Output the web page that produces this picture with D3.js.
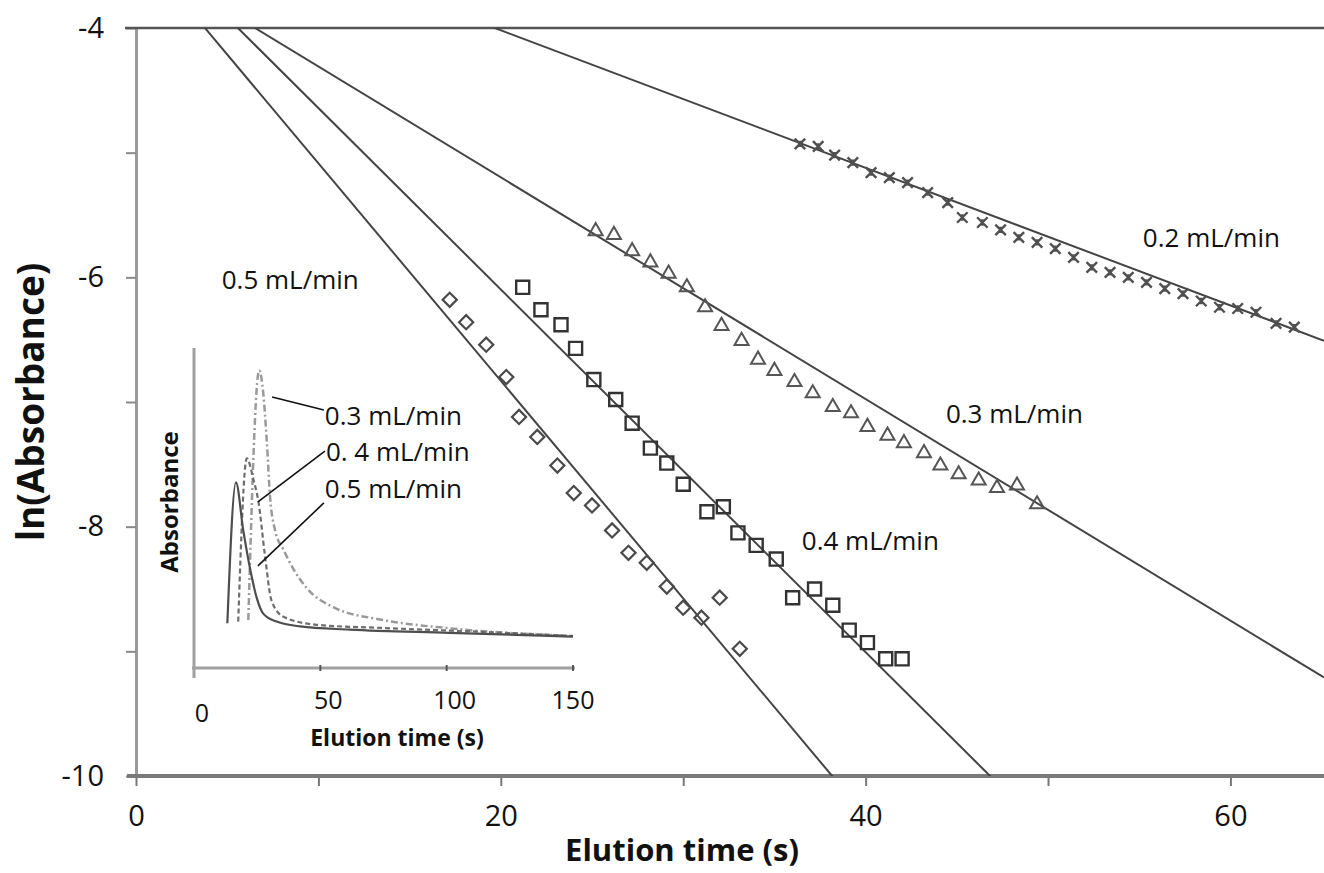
<!DOCTYPE html>
<html>
<head>
<meta charset="utf-8">
<script src="https://cdn.jsdelivr.net/npm/d3@7"></script>
<style>
  body { margin: 0; background: #fff; }
  svg { display: block; font-family: "Open Sans", "Noto Sans", sans-serif; }
</style>
</head>
<body>
<div class="chart"></div>
<script>
const FRAME_WIDTH = 1324;
const FRAME_HEIGHT = 873;

// ---- main plot data: ln(absorbance) vs elution time (s) ----
const FLOW_LABELS = ["0.5 mL/min", "0.4 mL/min", "0.3 mL/min", "0.2 mL/min"];

const DIAMOND_T = [17.2, 18.1, 19.2, 20.3, 21.0, 22.0, 23.1, 24.0, 25.0, 26.1, 27.0, 28.0, 29.1, 30.0, 31.0, 32.0, 33.1];
const DIAMOND_LN = [-6.18, -6.36, -6.54, -6.80, -7.12, -7.28, -7.51, -7.73, -7.83, -8.03, -8.21, -8.29, -8.48, -8.65, -8.73, -8.57, -8.98];

const SQUARE_T = [21.2, 22.2, 23.3, 24.1, 25.1, 26.3, 27.2, 28.2, 29.1, 30.0, 31.3, 32.2, 33.0, 34.0, 35.1, 36.0, 37.2, 38.2, 39.1, 40.1, 41.1, 42.0];
const SQUARE_LN = [-6.08, -6.26, -6.38, -6.57, -6.82, -6.98, -7.17, -7.37, -7.49, -7.66, -7.88, -7.84, -8.05, -8.15, -8.26, -8.57, -8.50, -8.63, -8.83, -8.93, -9.06, -9.06];

const TRIANGLE_T = [25.2, 26.2, 27.2, 28.2, 29.2, 30.2, 31.2, 32.1, 33.2, 34.1, 35.0, 36.1, 37.1, 38.2, 39.2, 40.1, 41.2, 42.1, 43.2, 44.1, 45.1, 46.2, 47.2, 48.3, 49.4];
const TRIANGLE_LN = [-5.63, -5.66, -5.79, -5.88, -5.97, -6.08, -6.24, -6.39, -6.51, -6.66, -6.75, -6.84, -6.93, -7.04, -7.09, -7.20, -7.27, -7.33, -7.41, -7.51, -7.58, -7.63, -7.69, -7.67, -7.82];

const CROSS_T = [36.4, 37.4, 38.3, 39.3, 40.3, 41.3, 42.3, 43.4, 44.5, 45.3, 46.4, 47.4, 48.4, 49.4, 50.4, 51.4, 52.4, 53.4, 54.4, 55.4, 56.4, 57.4, 58.4, 59.4, 60.4, 61.4, 62.5, 63.5];
const CROSS_LN = [-4.93, -4.95, -5.02, -5.08, -5.16, -5.20, -5.24, -5.32, -5.40, -5.52, -5.56, -5.62, -5.68, -5.72, -5.77, -5.84, -5.92, -5.96, -6.00, -6.04, -6.09, -6.13, -6.19, -6.24, -6.25, -6.28, -6.37, -6.40];

// linear fits (0.5, 0.4, 0.3, 0.2 mL/min)
const FIT_SLOPE = [-0.1745, -0.1455, -0.0889, -0.0552];
const FIT_INTERCEPT = [-3.340, -3.187, -3.420, -2.914];

// where the flow labels sit (time, ln value)
const LABEL_T = [4.7, 36.5, 44.4, 55.2];
const LABEL_LN = [-6.09, -8.19, -7.17, -5.76];

const X_TICKS = [0, 10, 20, 30, 40, 50, 60];
const Y_TICKS = [-4, -5, -6, -7, -8, -9, -10];

// ---- inset data: absorbance vs elution time (s) ----
const INSET_T_05 = [13.2, 16.6, 19.5, 22.2, 24.8, 27.4, 32.7, 42, 61.7, 101, 150];
const INSET_A_05 = [0.14, 0.58, 0.43, 0.31, 0.22, 0.17, 0.145, 0.13, 0.12, 0.11, 0.098];
const INSET_T_04 = [17.5, 20.9, 23.5, 25.5, 28.1, 30.7, 35.4, 48.5, 75, 114, 150];
const INSET_A_04 = [0.145, 0.655, 0.59, 0.52, 0.35, 0.21, 0.16, 0.135, 0.125, 0.113, 0.1];
const INSET_T_03 = [21.5, 25.8, 27.4, 28.8, 30.1, 32.1, 35.4, 39.3, 44.6, 55.1, 74.9, 101.3, 150];
const INSET_A_03 = [0.15, 0.93, 0.86, 0.71, 0.535, 0.43, 0.37, 0.31, 0.25, 0.19, 0.15, 0.124, 0.1];
const INSET_LABELS = ["0.3 mL/min", "0. 4 mL/min", "0.5 mL/min"];
const INSET_X_TICKS = [0, 50, 100, 150];

const SVG = d3.select(".chart").append("svg")
    .attr("width", FRAME_WIDTH)
    .attr("height", FRAME_HEIGHT);

const X_SCALE = d3.scaleLinear().domain([0, 65.13]).range([136, 1324]);
const Y_SCALE = d3.scaleLinear().domain([-10, -4]).range([776, 28]);

SVG.append("clipPath").attr("id", "plot-clip")
  .append("rect")
    .attr("x", X_SCALE(0)).attr("y", Y_SCALE(-4))
    .attr("width", X_SCALE(65.13) - X_SCALE(0))
    .attr("height", Y_SCALE(-10) - Y_SCALE(-4));

// left axis
const yAxis = SVG.append("g")
    .attr("transform", "translate(" + X_SCALE(0) + ",0)")
    .call(d3.axisLeft(Y_SCALE).tickValues(Y_TICKS).tickSize(10).tickSizeOuter(0)
        .tickPadding(22).tickFormat(d => d % 2 === 0 ? d : ""));
yAxis.select(".domain").attr("stroke", "#9a9a9a").attr("stroke-width", 3);
yAxis.selectAll(".tick line").attr("stroke", "#8a8a8a").attr("stroke-width", 2);
yAxis.selectAll("text").attr("font-size", "29px").attr("fill", "#111")
    .attr("font-family", "Open Sans");

// bottom axis
const xAxis = SVG.append("g")
    .attr("transform", "translate(0," + Y_SCALE(-10) + ")")
    .call(d3.axisBottom(X_SCALE).tickValues(X_TICKS).tickSize(10).tickSizeOuter(0)
        .tickPadding(19).tickFormat(d => d % 20 === 0 ? d : ""));
xAxis.select(".domain").remove();
xAxis.selectAll(".tick line").attr("stroke", "#777").attr("stroke-width", 2);
xAxis.selectAll("text").attr("font-size", "29px").attr("fill", "#111")
    .attr("font-family", "Open Sans");

SVG.append("line")
    .attr("x1", X_SCALE(0) - 9).attr("x2", X_SCALE(65.13))
    .attr("y1", Y_SCALE(-10)).attr("y2", Y_SCALE(-10))
    .attr("stroke", "#7a7a7a").attr("stroke-width", 4);

SVG.append("line")
    .attr("x1", X_SCALE(0) - 11).attr("x2", X_SCALE(65.13))
    .attr("y1", Y_SCALE(-4)).attr("y2", Y_SCALE(-4))
    .attr("stroke", "#555").attr("stroke-width", 2.5);

// axis titles
SVG.append("text")
    .attr("transform", "translate(44," + 402 + ") rotate(-90)")
    .attr("text-anchor", "middle")
    .attr("font-size", "37px").attr("font-weight", "bold").attr("fill", "#111")
    .text("ln(Absorbance)");

SVG.append("text")
    .attr("x", 682).attr("y", 861)
    .attr("text-anchor", "middle")
    .attr("font-size", "31px").attr("font-weight", "bold").attr("fill", "#111")
    .text("Elution time (s)");

// fitted lines
const PLOT = SVG.append("g").attr("clip-path", "url(#plot-clip)");
const LINE = d3.line().x(d => X_SCALE(d[0])).y(d => Y_SCALE(d[1]));
FIT_SLOPE.forEach((m, i) => {
    const b = FIT_INTERCEPT[i];
    const pts = [0, 65.13].map(t => [t, b + m * t]);
    PLOT.append("path")
        .attr("d", LINE(pts))
        .attr("fill", "none")
        .attr("stroke", "#444")
        .attr("stroke-width", 2);
});

// markers
const crossType = {
    draw(ctx, size) {
        const r = Math.sqrt(size) / 2;
        ctx.moveTo(-r, -r); ctx.lineTo(r, r);
        ctx.moveTo(r, -r); ctx.lineTo(-r, r);
        ctx.moveTo(0, -r * 0.6); ctx.lineTo(0, r * 0.6);
    }
};

function drawMarkers(ts, vals, type, size, rotate, stroke, width) {
    const sym = d3.symbol().type(type).size(size);
    PLOT.append("g").selectAll("path")
        .data(ts.map((t, i) => [t, vals[i]]))
        .enter().append("path")
            .attr("d", sym)
            .attr("transform", d => "translate(" + X_SCALE(d[0]) + "," + Y_SCALE(d[1]) + ") rotate(" + rotate + ")")
            .attr("fill", "none")
            .attr("stroke", stroke)
            .attr("stroke-width", width);
}

drawMarkers(DIAMOND_T, DIAMOND_LN, d3.symbolSquare, 100, 45, "#4a4a4a", 2.2);
drawMarkers(SQUARE_T, SQUARE_LN, d3.symbolSquare, 170, 0, "#333", 2.4);
drawMarkers(TRIANGLE_T, TRIANGLE_LN, d3.symbolTriangle, 85, 0, "#555", 2);
drawMarkers(CROSS_T, CROSS_LN, crossType, 110, 0, "#505050", 2.4);

// flow labels
SVG.selectAll(".flow-label")
    .data(FLOW_LABELS)
    .enter().append("text")
        .attr("class", "flow-label")
        .attr("x", (d, i) => X_SCALE(LABEL_T[i]))
        .attr("y", (d, i) => Y_SCALE(LABEL_LN[i]))
        .attr("font-size", "26px").attr("fill", "#111")
        .text(d => d);

// ---- inset ----
const IX = d3.scaleLinear().domain([0, 150]).range([194, 573]);
const IY = d3.scaleLinear().domain([0, 1]).range([668, 348]);

SVG.append("line")
    .attr("x1", IX(0)).attr("x2", IX(0)).attr("y1", IY(1)).attr("y2", IY(0) + 10)
    .attr("stroke", "#a0a0a0").attr("stroke-width", 3);
SVG.append("line")
    .attr("x1", IX(0) - 2).attr("x2", IX(150) + 2).attr("y1", IY(0)).attr("y2", IY(0))
    .attr("stroke", "#a0a0a0").attr("stroke-width", 3);

const insetTicks = SVG.append("g");
insetTicks.selectAll("line")
    .data(INSET_X_TICKS.slice(1))
    .enter().append("line")
        .attr("x1", d => IX(d)).attr("x2", d => IX(d))
        .attr("y1", IY(0) - 3).attr("y2", IY(0) + 3)
        .attr("stroke", "#555").attr("stroke-width", 2);
insetTicks.selectAll("text")
    .data(INSET_X_TICKS)
    .enter().append("text")
        .attr("x", d => IX(d) + (d === 150 ? 0 : 8))
        .attr("y", d => d === 0 ? 722 : 709)
        .attr("text-anchor", "middle")
        .attr("font-size", "25px").attr("fill", "#111")
        .text(d => d);

SVG.append("text")
    .attr("transform", "translate(178,502) rotate(-90)")
    .attr("text-anchor", "middle")
    .attr("font-size", "24px").attr("font-weight", "bold").attr("fill", "#111")
    .text("Absorbance");
SVG.append("text")
    .attr("x", 397).attr("y", 746)
    .attr("text-anchor", "middle")
    .attr("font-size", "23px").attr("font-weight", "bold").attr("fill", "#111")
    .text("Elution time (s)");

const INSET_LINE = d3.line().x(d => IX(d[0])).y(d => IY(d[1])).curve(d3.curveMonotoneX);
const insetSeries = [
    {t: INSET_T_03, a: INSET_A_03, stroke: "#9a9a9a", dash: "7,3,2,3", width: 2.5},
    {t: INSET_T_04, a: INSET_A_04, stroke: "#6e6e6e", dash: "5,3", width: 2.2},
    {t: INSET_T_05, a: INSET_A_05, stroke: "#4e4e4e", dash: null, width: 2.2}
];
insetSeries.forEach(s => {
    SVG.append("path")
        .attr("d", INSET_LINE(s.t.map((t, i) => [t, s.a[i]])))
        .attr("fill", "none")
        .attr("stroke", s.stroke)
        .attr("stroke-width", s.width)
        .attr("stroke-dasharray", s.dash);
});

// inset callouts: from a point on the curve to the label
const CALLOUT_FROM_T = [30.9, 25.3, 25.3];
const CALLOUT_FROM_A = [0.847, 0.519, 0.319];
const CALLOUT_TO_T = [51.4, 51.8, 51.4];
const CALLOUT_TO_A = [0.806, 0.678, 0.516];
const INSET_LABEL_A = [0.79, 0.675, 0.56];

INSET_LABELS.forEach((lab, i) => {
    SVG.append("line")
        .attr("x1", IX(CALLOUT_FROM_T[i])).attr("y1", IY(CALLOUT_FROM_A[i]))
        .attr("x2", IX(CALLOUT_TO_T[i])).attr("y2", IY(CALLOUT_TO_A[i]))
        .attr("stroke", "#111").attr("stroke-width", 1.6);
    SVG.append("text")
        .attr("x", IX(CALLOUT_TO_T[i]) + 1)
        .attr("y", IY(INSET_LABEL_A[i]))
        .attr("dy", "0.36em")
        .attr("font-size", "26px").attr("fill", "#111")
        .text(lab);
});
</script>
</body>
</html>
